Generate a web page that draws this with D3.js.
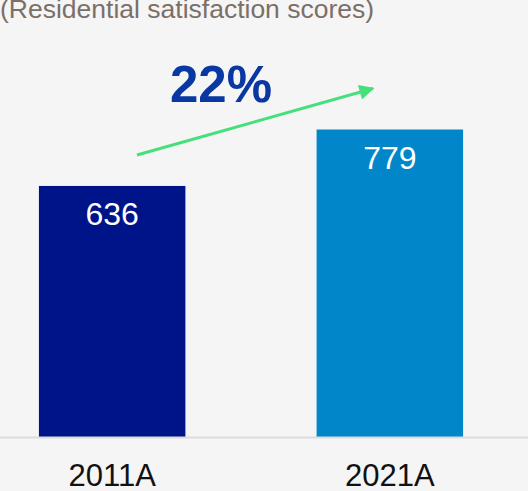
<!DOCTYPE html>
<html>
<head>
<meta charset="utf-8">
<script src="https://cdn.jsdelivr.net/npm/d3@7"></script>
<style>
  html, body { margin: 0; padding: 0; background: #f5f5f5; }
  svg { display: block; }
</style>
</head>
<body>
<div id="chart"></div>
<script>
// Chart data
const categories = ["2011A", "2021A"];
const scores = [636, 779];
const barColors = ["#00148a", "#0086c9"];
const growthLabel = "22%";
const subtitle = "(Residential satisfaction scores)";

const width = 528, height = 491;

const svg = d3.select("#chart")
              .append("svg")
              .attr("width", width)
              .attr("height", height);

// background
svg.append("rect")
   .attr("width", width)
   .attr("height", height)
   .attr("fill", "#f5f5f5");

const x = d3.scaleBand()
            .domain(categories)
            .range([-13, 515])
            .paddingInner(0.4725)
            .paddingOuter(0.187);

const y = d3.scaleLinear()
            .domain([0, 779])
            .range([437, 129.5]);

// subtitle (cropped at the top edge like the source)
svg.append("text")
   .attr("x", 0)
   .attr("y", 18)
   .attr("font-family", "Liberation Sans, Arial, sans-serif")
   .attr("font-size", 26.5)
   .attr("fill", "#7b6f68")
   .text(subtitle);

// bars
svg.selectAll("rect.bar")
   .data(scores)
   .join("rect")
   .attr("class", "bar")
   .attr("x", (d, i) => x(categories[i]))
   .attr("y", d => y(d))
   .attr("width", x.bandwidth())
   .attr("height", d => y(0) - y(d))
   .attr("fill", (d, i) => barColors[i]);

// value labels inside the bars
svg.selectAll("text.value")
   .data(scores)
   .join("text")
   .attr("class", "value")
   .attr("x", (d, i) => x(categories[i]) + x.bandwidth() / 2)
   .attr("y", d => y(d) + 39)
   .attr("text-anchor", "middle")
   .attr("font-family", "Liberation Sans, Arial, sans-serif")
   .attr("font-size", 32)
   .attr("fill", "#fff")
   .text(d => d);

// baseline
svg.append("line")
   .attr("x1", 0)
   .attr("x2", width)
   .attr("y1", y(0) + 0.5)
   .attr("y2", y(0) + 0.5)
   .attr("stroke", "#dcdcdc")
   .attr("stroke-width", 2);

// category axis labels
const xAxis = svg.append("g")
                 .attr("transform", `translate(0,${y(0)})`)
                 .call(d3.axisBottom(x).tickSize(0).tickPadding(0));
xAxis.select(".domain").remove();
xAxis.selectAll("text")
     .attr("y", 49)
     .attr("dy", null)
     .attr("font-family", "Liberation Sans, Arial, sans-serif")
     .attr("font-size", 31)
     .attr("fill", "#111");

// growth arrow
svg.append("defs")
   .append("marker")
   .attr("id", "head")
   .attr("viewBox", "0 0 10 10")
   .attr("refX", 9)
   .attr("refY", 5)
   .attr("markerWidth", 5.5)
   .attr("markerHeight", 5)
   .attr("orient", "auto")
   .append("path")
   .attr("d", "M0,0L10,5L0,10Z")
   .attr("fill", "#45e07a");

svg.append("line")
   .attr("x1", 137)
   .attr("y1", 155)
   .attr("x2", 373)
   .attr("y2", 88.5)
   .attr("stroke", "#45e07a")
   .attr("stroke-width", 3)
   .attr("marker-end", "url(#head)");

svg.append("text")
   .attr("x", 221)
   .attr("y", 102)
   .attr("text-anchor", "middle")
   .attr("font-family", "Liberation Sans, Arial, sans-serif")
   .attr("font-weight", "bold")
   .attr("font-size", 51)
   .attr("fill", "#0a38a3")
   .text(growthLabel);
</script>
</body>
</html>
